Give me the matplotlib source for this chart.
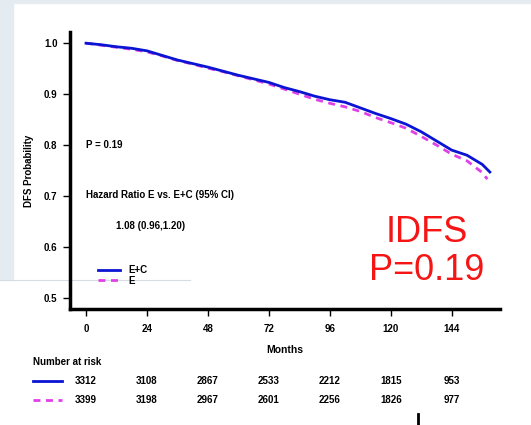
import numpy as np
import matplotlib.pyplot as plt
from matplotlib.patches import Rectangle
from matplotlib.lines import Line2D

plt.rcParams['font.family'] = ['Liberation Sans', 'DejaVu Sans']
plt.rcParams['font.weight'] = 'bold'
plt.rcParams['axes.labelweight'] = 'bold'

# Kaplan-Meier curves (months, survival)
months_ec = [0, 6, 12, 18, 24, 30, 36, 42, 48, 54, 60, 66, 72, 78, 84, 90, 96,
             102, 108, 114, 120, 126, 132, 138, 144, 150, 156, 159]
surv_ec = [1.000, 0.997, 0.993, 0.990, 0.985, 0.976, 0.967, 0.960, 0.953, 0.945,
           0.937, 0.930, 0.923, 0.913, 0.905, 0.896, 0.889, 0.884, 0.873, 0.862,
           0.852, 0.841, 0.826, 0.808, 0.790, 0.780, 0.762, 0.747]
months_e = [0, 6, 12, 18, 24, 30, 36, 42, 48, 54, 60, 66, 72, 78, 84, 90, 96,
            102, 108, 114, 120, 126, 132, 138, 144, 150, 156, 158]
surv_e = [1.000, 0.996, 0.992, 0.988, 0.983, 0.975, 0.966, 0.959, 0.951, 0.944,
          0.936, 0.928, 0.920, 0.910, 0.900, 0.890, 0.882, 0.875, 0.866, 0.854,
          0.844, 0.833, 0.817, 0.800, 0.782, 0.769, 0.746, 0.733]

risk_times = [0, 24, 48, 72, 96, 120, 144]
risk_ec = [3312, 3108, 2867, 2533, 2212, 1815, 953]
risk_e = [3399, 3198, 2967, 2601, 2256, 1826, 977]

blue = '#0a14d2'
pink = '#e040e8'
dash = (0, (2.5, 2))

fig = plt.figure(figsize=(5.31, 4.25), dpi=100)

# slide background bits
fig.patches.append(Rectangle((0, 0), 1, 1, transform=fig.transFigure, color='white', zorder=-10))
fig.patches.append(Rectangle((0, 1 - 280/425), 13/531, 280/425, transform=fig.transFigure,
                             color='#e4ebf1', zorder=-9))
fig.patches.append(Rectangle((0, 1 - 3/425), 1, 3/425, transform=fig.transFigure,
                             color='#e4ebf1', zorder=-9))
fig.lines.append(Line2D([0, 190/531], [1 - 280/425]*2, transform=fig.transFigure,
                        color='#d6dce1', lw=0.8, zorder=-8))

ax = fig.add_axes([70/531, 116/425, 430/531, 277/425])
ax.patch.set_alpha(0)
ax.plot(months_ec, surv_ec, color=blue, lw=2, label='E+C', zorder=3)
ax.plot(months_e, surv_e, color=pink, lw=2, ls=dash, label='E', zorder=2)

ax.set_xlim(-6.3, 163)
ax.set_ylim(0.478, 1.022)
ax.set_xticks(risk_times)
ax.set_yticks([0.5, 0.6, 0.7, 0.8, 0.9, 1.0])
ax.set_yticklabels(['0.5', '0.6', '0.7', '0.8', '0.9', '1.0'])
for s in ['top', 'right']:
    ax.spines[s].set_visible(False)
for s in ['left', 'bottom']:
    ax.spines[s].set_linewidth(2.5)
ax.tick_params(labelsize=7, width=1, length=5, pad=4)
ax.tick_params(axis='x', pad=6)
ax.set_ylabel('DFS Probability', fontsize=7, labelpad=7)
ax.set_xlabel('Months', fontsize=7.5, labelpad=8)

ax.text(0, 0.8, 'P = 0.19', fontsize=7, va='center')
ax.text(0, 0.701, 'Hazard Ratio E vs. E+C (95% CI)', fontsize=7, va='center')
ax.text(12, 0.641, '1.08 (0.96,1.20)', fontsize=7, va='center')

leg = ax.legend(loc='upper left', bbox_to_anchor=(0.045, 0.19), frameon=False, fontsize=7,
                handlelength=2.3, handletextpad=0.8, labelspacing=0.05)

ax.text(134, 0.628, 'IDFS', color='#f51515', fontsize=26, fontweight='normal',
        ha='center', va='center')
ax.text(134, 0.554, 'P=0.19', color='#f51515', fontsize=26, fontweight='normal',
        ha='center', va='center')

# number at risk table
fig.text(33/531, 1 - 362/425, 'Number at risk', fontsize=7, va='center')
for yy, vals, col, ls in [(381, risk_ec, blue, '-'), (400, risk_e, pink, dash)]:
    fig.lines.append(Line2D([33/531, 62/531], [1 - yy/425]*2, transform=fig.transFigure,
                            color=col, lw=2, ls=ls))
    for t, v in zip(risk_times, vals):
        xf = ax.transData.transform((t, 0))[0] / fig.bbox.width
        fig.text(xf, 1 - yy/425, str(v), fontsize=7, ha='center', va='center')

fig.lines.append(Line2D([418/531]*2, [0, 11/425], transform=fig.transFigure, color='black', lw=2))

fig.savefig('out.png', dpi=100)
